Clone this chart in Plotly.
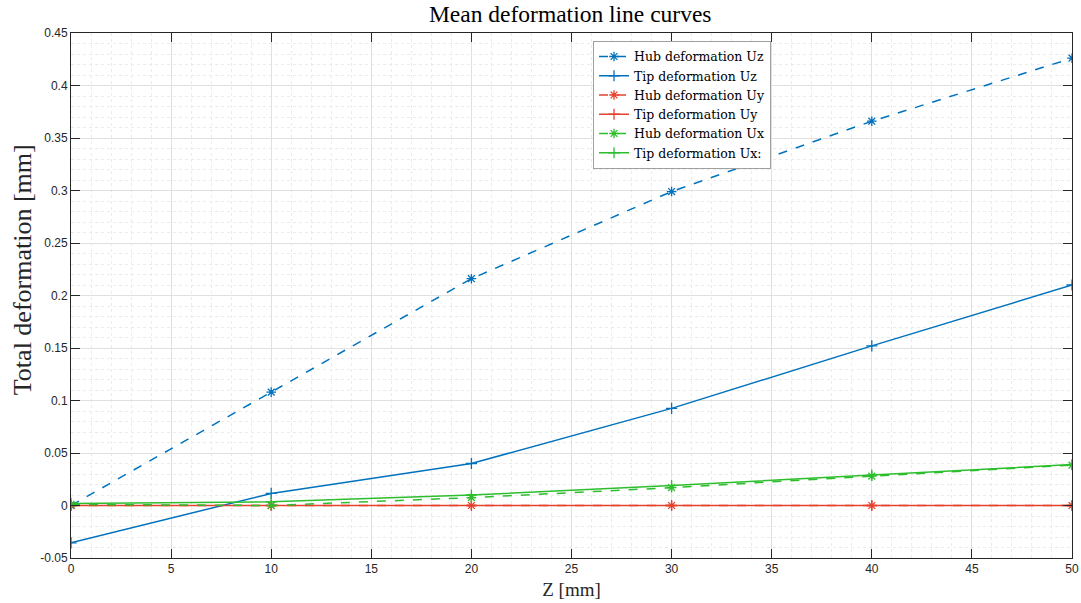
import plotly.graph_objects as go

z = [0, 10, 20, 30, 40, 50]
hub_uz = [0.0, 0.108, 0.216, 0.299, 0.366, 0.426]
tip_uz = [-0.0355, 0.0115, 0.040, 0.0925, 0.152, 0.210]
hub_uy = [0.0, 0.0, 0.0, 0.0, 0.0, 0.0]
tip_uy = [0.0, 0.0, 0.0, 0.0, 0.0, 0.0]
hub_ux = [0.001, 0.0, 0.0075, 0.0170, 0.0280, 0.0385]
tip_ux = [0.002, 0.0035, 0.0100, 0.0190, 0.0290, 0.0390]

names = ["Hub deformation Uz", "Tip deformation Uz", "Hub deformation Uy",
         "Tip deformation Uy", "Hub deformation Ux", "Tip deformation Ux:"]

x_ticks = [0, 5, 10, 15, 20, 25, 30, 35, 40, 45, 50]
y_ticks = [-0.05, 0, 0.05, 0.1, 0.15, 0.2, 0.25, 0.3, 0.35, 0.4, 0.45]
y_ticktext = ["-0.05", "0", "0.05", "0.1", "0.15", "0.2", "0.25", "0.3", "0.35", "0.4", "0.45"]

BLUE = "#0072BD"
RED = "#E5412F"
GREEN = "#2DBE2D"
SERIF = "Liberation Serif, Times New Roman, serif"

series = [
    (hub_uz, BLUE, "dash", "asterisk-open"),
    (tip_uz, BLUE, "solid", "cross-thin-open"),
    (hub_uy, RED, "dash", "asterisk-open"),
    (tip_uy, RED, "solid", "cross-thin-open"),
    (hub_ux, GREEN, "dash", "asterisk-open"),
    (tip_ux, GREEN, "solid", "cross-thin-open"),
]

fig = go.Figure()
for (vals, col, dash, sym), nm in zip(series, names):
    fig.add_trace(go.Scatter(
        x=z, y=vals, name=nm, mode="lines+markers",
        line=dict(color=col, width=1.5, dash=dash),
        marker=dict(symbol=sym, size=8, color=col, line=dict(color=col, width=1.3)),
    ))

axis_common = dict(
    showline=True, linecolor="#262626", linewidth=1, mirror="ticks",
    ticks="inside", ticklen=9, tickcolor="#262626",
    tickfont=dict(family="Liberation Sans, Arial, sans-serif", size=12, color="#262626"),
    showgrid=True, gridcolor="#e0e0e0", gridwidth=1, zeroline=False,
    automargin=False,
)

fig.update_xaxes(
    range=[0, 50], tickvals=x_ticks, ticktext=[str(v) for v in x_ticks],
    title=dict(text="Z [mm]", font=dict(family=SERIF, size=19, color="#262626"), standoff=7),
    minor=dict(dtick=1, showgrid=True, gridcolor="#ebebeb", griddash="dot", gridwidth=1),
    **axis_common,
)
fig.update_yaxes(
    range=[-0.05, 0.45], tickvals=y_ticks, ticktext=y_ticktext,
    minor=dict(dtick=0.01, tick0=0, showgrid=True, gridcolor="#ebebeb", griddash="dot", gridwidth=1),
    **axis_common,
)

fig.add_annotation(
    text="Total deformation [mm]", textangle=-90, showarrow=False,
    xref="paper", yref="paper", x=-0.049, y=0.55, xanchor="center", yanchor="middle",
    font=dict(family=SERIF, size=26, color="#262626"),
)

fig.update_layout(
    width=1081, height=603,
    margin=dict(l=71, r=9, t=33, b=45),
    paper_bgcolor="white", plot_bgcolor="white",
    title=dict(text="Mean deformation line curves", x=0.5275, xanchor="center", y=0.977, yanchor="middle",
               font=dict(family=SERIF, size=23.5, color="#000000")),
    legend=dict(x=0.5215, y=0.985, xanchor="left", yanchor="top",
                bgcolor="white", bordercolor="#a0a0a0", borderwidth=1,
                font=dict(family="DejaVu Serif, serif", size=12.5, color="#000000"),
                tracegroupgap=0, itemwidth=30),
    showlegend=True,
)

fig.write_html("out.html", config={"displayModeBar": False},
               post_script="document.body.style.margin='0';document.body.style.overflow='hidden';")
